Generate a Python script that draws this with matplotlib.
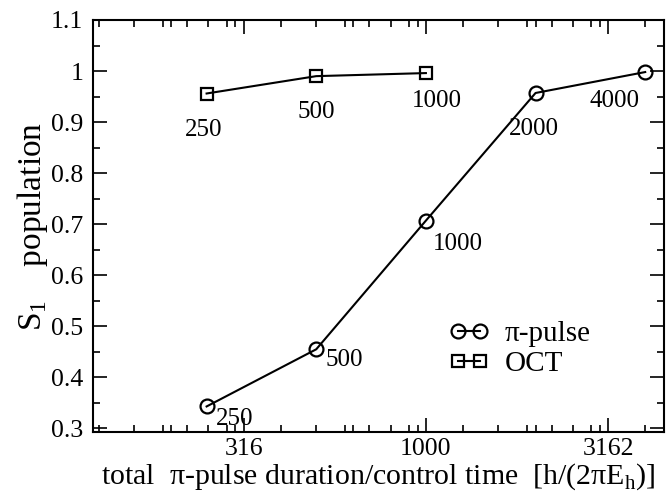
import numpy as np
import matplotlib
matplotlib.use("Agg")
import matplotlib.pyplot as plt
from matplotlib.ticker import FixedLocator, NullFormatter

plt.rcParams['font.family'] = ['Liberation Serif', 'DejaVu Serif']
plt.rcParams['mathtext.fontset'] = 'custom'
plt.rcParams['mathtext.rm'] = 'Liberation Serif'

# pulse duration / control time and resulting S1 population
pi_time = [250, 500, 1000, 2000, 4000]
pi_pop = [0.343, 0.455, 0.707, 0.957, 0.998]
pi_labels = ['250', '500', '1000', '2000', '4000']

oct_time = [250, 500, 1000]
oct_pop = [0.956, 0.990, 0.996]
oct_labels = ['250', '500', '1000']

x_major = [316.2, 1000, 3162]
x_major_labels = ['316', '1000', '3162']
x_minor = ([200, 300, 400, 500, 600, 700, 800, 900, 2000, 3000, 4000] +
           [126.5, 158.1, 189.7, 221.4, 253.0, 284.6,
            632.5, 948.7, 1264.9, 1581.1, 1897.4, 2213.6, 2529.8, 2846.0])

fig = plt.figure(figsize=(6.67, 4.91), dpi=100)
ax = fig.add_axes([0.1394, 0.1202, 0.8561, 0.8391])

ax.plot(pi_time, pi_pop, color='black', lw=1.5, marker='o', ms=10,
        mfc='none', mec='black', mew=1.6, label='\u03c0-pulse')
ax.plot(oct_time, oct_pop, color='black', lw=1.5, marker='s', ms=8,
        mfc='none', mec='black', mew=1.6, label='OCT')

# label each point with its duration
pi_offsets = [(7, -9, 'left'), (7, -8, 'left'), (5, -17, 'left'),
              (-1, -26, 'center'), (-22, -21, 'center')]
for x, y, t, (dx, dy, ha) in zip(pi_time, pi_pop, pi_labels, pi_offsets):
    ax.annotate(t, (x, y), xytext=(dx, dy), textcoords='offset points',
                fontsize=18, ha=ha, va='center')

oct_offsets = [(-2, -26), (0, -26), (8, -20)]
for x, y, t, (dx, dy) in zip(oct_time, oct_pop, oct_labels, oct_offsets):
    ax.annotate(t, (x, y), xytext=(dx, dy), textcoords='offset points',
                fontsize=18, ha='center', va='center')

ax.set_xscale('log')
ax.set_xlim(121.9, 4505)
ax.set_ylim(0.293, 1.1)

ax.xaxis.set_major_locator(FixedLocator(x_major))
ax.set_xticklabels(x_major_labels)
ax.xaxis.set_minor_locator(FixedLocator(x_minor))
ax.xaxis.set_minor_formatter(NullFormatter())

y_major = np.round(np.arange(0.3, 1.1001, 0.1), 2)
ax.set_yticks(y_major)
ax.set_yticklabels(['0.3', '0.4', '0.5', '0.6', '0.7', '0.8', '0.9', '1', '1.1'])
ax.set_yticks(np.arange(0.35, 1.1, 0.1), minor=True)

ax.tick_params(which='both', direction='in', top=True, right=True,
               labelsize=18.5, width=1.2)
ax.tick_params(which='major', length=10)
ax.tick_params(which='minor', length=5)
ax.tick_params(axis='x', pad=4)
ax.tick_params(axis='y', pad=7)
for s in ax.spines.values():
    s.set_linewidth(1.5)

ax.set_xlabel('total  \u03c0-pulse duration/control time  [h/(2\u03c0E$_\\mathrm{h}$)]',
              fontsize=21.5, labelpad=1)
ax.set_ylabel('S$_\\mathrm{1}$    population', fontsize=24, labelpad=1)

ax.legend(loc='upper left', bbox_to_anchor=(0.624, 0.27), frameon=False,
          fontsize=21, numpoints=2, handlelength=1.35, handletextpad=0.55,
          labelspacing=0.12, borderpad=0, borderaxespad=0)

fig.savefig('out.png', dpi=100)
